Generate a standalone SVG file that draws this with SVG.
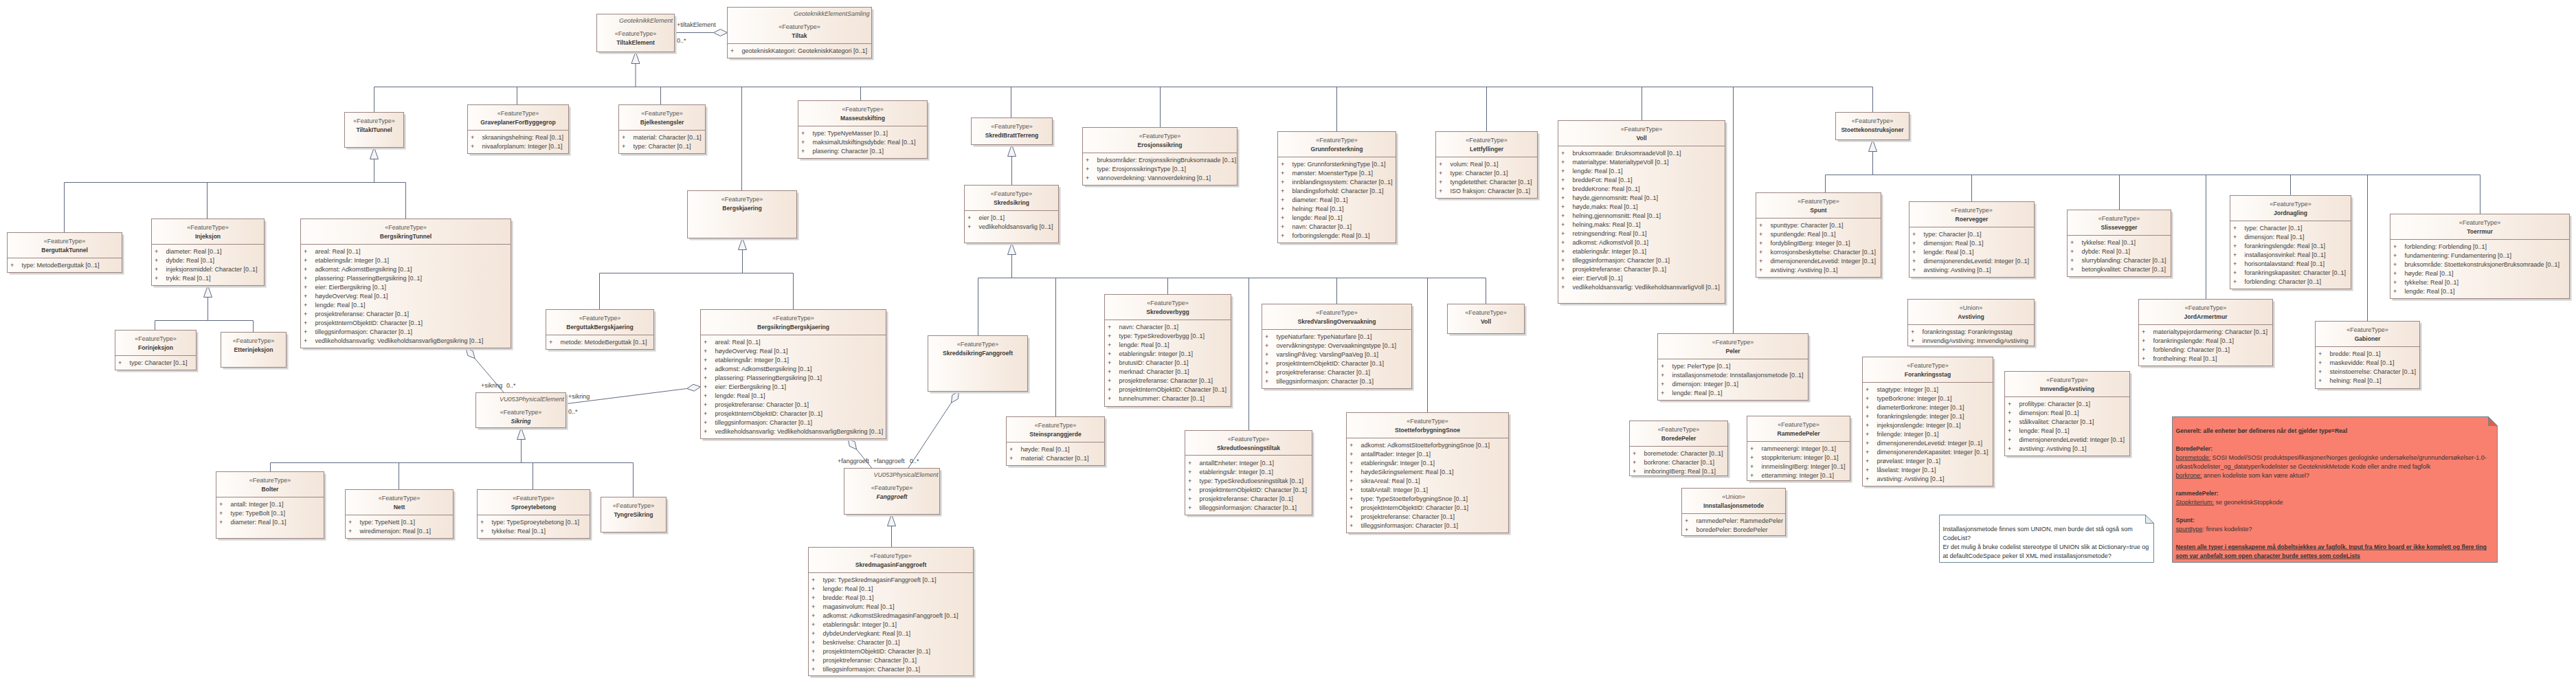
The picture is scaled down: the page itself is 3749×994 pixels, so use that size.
<svg xmlns="http://www.w3.org/2000/svg" width="3749" height="994" viewBox="0 0 3749 994">
<defs>
<linearGradient id="g" x1="0" y1="0" x2="1" y2="0"><stop offset="0" stop-color="#fffdfb"/><stop offset="1" stop-color="#f3e5d9"/></linearGradient>
</defs>
<style>
text{font-family:'Liberation Sans',Arial,sans-serif;font-size:9px;fill:#3f3f3f}
.sh{fill:#d2d2d2}
.bx{fill:url(#g);stroke:#9c8682;stroke-width:1}
.dv{stroke:#9c8682;stroke-width:1}
.st{text-anchor:middle;fill:#575757}
.nm{text-anchor:middle;font-weight:bold;font-size:8.6px;fill:#3a3a3a}
.ni{text-anchor:middle;font-weight:bold;font-style:italic;font-size:8.6px;fill:#3a3a3a}
.it{text-anchor:end;font-style:italic;fill:#5a5a5a}
.ln{fill:none;stroke:#5f6a80;stroke-width:1}
.tri{fill:#f5f5f7;stroke:#5f6a80;stroke-width:1}
.note{fill:#ffffff;stroke:#6d8895;stroke-width:1}
.rnote{fill:#f9806f;stroke:#6d8895;stroke-width:1}
.nt{fill:#333}
.b{font-weight:bold;font-size:8.6px}
.u{text-decoration:underline}
</style>
<rect width="3749" height="994" fill="#ffffff"/>

<g id="connectors">
<path class="ln" d="M925,92.5 V126.5 M544.5,126.5 H2725.5 M544.5,126.5 V163.5 M752.5,126.5 V152.5 M961.5,126.5 V152.5 M1079.5,126.5 V277.5 M1252.5,126.5 V146.5 M1471.5,126.5 V171.5 M1688.5,126.5 V185.5 M1945.5,126.5 V191.5 M2163.5,126.5 V191.5 M2389.5,126.5 V175.5 M2522.5,126.5 V485.5 M2725.5,126.5 V163.5"/>
<path class="ln" d="M544.5,231.5 V265.5 M93.5,265.5 H590.5 M93.5,265.5 V338.5 M301.5,265.5 V318.5 M590.5,265.5 V318.5"/>
<path class="ln" d="M302.5,432.5 V466.5 M225.5,466.5 H368.5 M225.5,466.5 V480.5 M368.5,466.5 V483.5"/>
<path class="ln" d="M1080.5,363.5 V397.5 M872.5,397.5 H1154.5 M872.5,397.5 V450.5 M1154.5,397.5 V450.5"/>
<path class="ln" d="M758.5,639.5 V673.5 M393.5,673.5 H921.5 M393.5,673.5 V686.5 M580.5,673.5 V712.5 M775.5,673.5 V712.5 M921.5,673.5 V723.5"/>
<path class="ln" d="M1472.5,227.5 V269.5"/>
<path class="ln" d="M1472.5,370.5 V404.5 M1423.5,404.5 H2162.5 M1423.5,404.5 V488.5 M1536.5,404.5 V606.5 M1699.5,404.5 V428.5 M1817.5,404.5 V626.5 M1945.5,404.5 V442.5 M2077.5,404.5 V600.5 M2162.5,404.5 V442.5"/>
<path class="ln" d="M2725.5,220.5 V254.5 M2656.5,254.5 H3609.5 M2656.5,254.5 V280.5 M2869.5,254.5 V293.5 M3084.5,254.5 V305.5 M3210.5,254.5 V435.5 M3333.5,254.5 V284.5 M3445.5,254.5 V467.5 M3609.5,254.5 V311.5"/>
<path class="ln" d="M1297.5,765.5 V796.5"/>
<polygon class="tri" points="925,75.5 919,92.5 931,92.5"/>
<polygon class="tri" points="544.5,214.5 538.5,231.5 550.5,231.5"/>
<polygon class="tri" points="302.5,415.5 296.5,432.5 308.5,432.5"/>
<polygon class="tri" points="1080.5,346.5 1074.5,363.5 1086.5,363.5"/>
<polygon class="tri" points="758.5,622.5 752.5,639.5 764.5,639.5"/>
<polygon class="tri" points="1472.5,210.5 1466.5,227.5 1478.5,227.5"/>
<polygon class="tri" points="1472.5,353.5 1466.5,370.5 1478.5,370.5"/>
<polygon class="tri" points="2725.5,203.5 2719.5,220.5 2731.5,220.5"/>
<polygon class="tri" points="1297.5,748.5 1291.5,765.5 1303.5,765.5"/>
<path class="ln" d="M981.5,47.5 H1038.5"/>
<polygon class="tri" points="1058.5,47.5 1048.5,42.5 1038.5,47.5 1048.5,52.5"/>
<path class="ln" d="M691,521.7 L733.4,571.5"/>
<polygon class="tri" points="678,506.5 680.7,517.4 691,521.7 688.3,510.9"/>
<path class="ln" d="M823.5,587.7 L999.7,565.5"/>
<polygon class="tri" points="1019.5,563 1010.2,569.2 999.7,565.5 1009,559.3"/>
<path class="ln" d="M1246.6,654 L1269,681.5"/>
<polygon class="tri" points="1234,638.5 1236.4,649.4 1246.6,654 1244.2,643.1"/>
<path class="ln" d="M1384.5,586.2 L1321.7,681.5"/>
<polygon class="tri" points="1395.5,569.5 1385.8,575.1 1384.5,586.2 1394.2,580.6"/>
<text x="985" y="38.7">+tiltakElement</text>
<text x="985" y="62">0..*</text>
<text x="700" y="563.7">+sikring</text>
<text x="737" y="563.7">0..*</text>
<text x="827" y="580">+sikring</text>
<text x="827" y="602.3">0..*</text>
<text x="1219" y="673.7">+fanggroeft</text>
<text x="1270.7" y="673.7">+fanggroeft</text>
<text x="1324" y="673.7">0..*</text>
</g>

<g id="TiltakElement"><rect class="sh" x="871.5" y="23.5" width="113" height="55"/><rect class="bx" x="868.5" y="20.5" width="113" height="55"/><text class="it" x="979" y="32.7">GeoteknikkElement</text><text class="st" x="925" y="52">«FeatureType»</text><text class="nm" x="925" y="65">TiltakElement</text></g>

<g id="Tiltak"><rect class="sh" x="1061.5" y="13.5" width="210" height="74"/><rect class="bx" x="1058.5" y="10.5" width="210" height="74"/><text class="it" x="1265.5" y="22.7">GeoteknikkElementSamling</text><text class="st" x="1163.5" y="42">«FeatureType»</text><text class="nm" x="1163.5" y="54.7">Tiltak</text><line class="dv" x1="1058.5" y1="63.5" x2="1268.5" y2="63.5"/><text y="76.7"><tspan x="1063">+</tspan><tspan x="1079.5">geotekniskKategori: GeotekniskKategori [0..1]</tspan></text></g>

<g id="TiltakITunnel"><rect class="sh" x="504.5" y="166.5" width="86" height="51"/><rect class="bx" x="501.5" y="163.5" width="86" height="51"/><text class="st" x="544.5" y="178.7">«FeatureType»</text><text class="nm" x="544.5" y="191.7">TiltakITunnel</text></g>

<g id="BerguttakTunnel"><rect class="sh" x="13.5" y="341.5" width="167" height="58"/><rect class="bx" x="10.5" y="338.5" width="167" height="58"/><text class="st" x="94" y="353.7">«FeatureType»</text><text class="nm" x="94" y="366.7">BerguttakTunnel</text><line class="dv" x1="10.5" y1="375.5" x2="177.5" y2="375.5"/><text y="389"><tspan x="15">+</tspan><tspan x="31.5">type: MetodeBerguttak [0..1]</tspan></text></g>

<g id="Injeksjon"><rect class="sh" x="223.5" y="321.5" width="164" height="97"/><rect class="bx" x="220.5" y="318.5" width="164" height="97"/><text class="st" x="302.5" y="334">«FeatureType»</text><text class="nm" x="302.5" y="346.7">Injeksjon</text><line class="dv" x1="220.5" y1="355.5" x2="384.5" y2="355.5"/>
<text y="368.7"><tspan x="225">+</tspan><tspan x="241.5">diameter: Real [0..1]</tspan></text>
<text y="381.7"><tspan x="225">+</tspan><tspan x="241.5">dybde: Real [0..1]</tspan></text>
<text y="394.7"><tspan x="225">+</tspan><tspan x="241.5">injeksjonsmiddel: Character [0..1]</tspan></text>
<text y="407.7"><tspan x="225">+</tspan><tspan x="241.5">trykk: Real [0..1]</tspan></text></g>

<g id="Forinjeksjon"><rect class="sh" x="170.5" y="483.5" width="118" height="58"/><rect class="bx" x="167.5" y="480.5" width="118" height="58"/><text class="st" x="226.5" y="496">«FeatureType»</text><text class="nm" x="226.5" y="508.7">Forinjeksjon</text><line class="dv" x1="167.5" y1="517.5" x2="285.5" y2="517.5"/><text y="530.7"><tspan x="172">+</tspan><tspan x="188.5">type: Character [0..1]</tspan></text></g>

<g id="Etterinjeksjon"><rect class="sh" x="324.5" y="486.5" width="95" height="51"/><rect class="bx" x="321.5" y="483.5" width="95" height="51"/><text class="st" x="369" y="499">«FeatureType»</text><text class="nm" x="369" y="512">Etterinjeksjon</text></g>

<g id="BergsikringTunnel"><rect class="sh" x="440.5" y="321.5" width="306" height="188"/><rect class="bx" x="437.5" y="318.5" width="306" height="188"/><text class="st" x="590.5" y="334">«FeatureType»</text><text class="nm" x="590.5" y="346.7">BergsikringTunnel</text><line class="dv" x1="437.5" y1="355.5" x2="743.5" y2="355.5"/>
<text y="368.7"><tspan x="442">+</tspan><tspan x="458.5">areal: Real [0..1]</tspan></text>
<text y="381.7"><tspan x="442">+</tspan><tspan x="458.5">etableringsår: Integer [0..1]</tspan></text>
<text y="394.7"><tspan x="442">+</tspan><tspan x="458.5">adkomst: AdkomstBergsikring [0..1]</tspan></text>
<text y="407.7"><tspan x="442">+</tspan><tspan x="458.5">plassering: PlasseringBergsikring [0..1]</tspan></text>
<text y="420.7"><tspan x="442">+</tspan><tspan x="458.5">eier: EierBergsikring [0..1]</tspan></text>
<text y="433.7"><tspan x="442">+</tspan><tspan x="458.5">høydeOverVeg: Real [0..1]</tspan></text>
<text y="446.7"><tspan x="442">+</tspan><tspan x="458.5">lengde: Real [0..1]</tspan></text>
<text y="459.7"><tspan x="442">+</tspan><tspan x="458.5">prosjektreferanse: Character [0..1]</tspan></text>
<text y="472.7"><tspan x="442">+</tspan><tspan x="458.5">prosjektInternObjektID: Character [0..1]</tspan></text>
<text y="485.7"><tspan x="442">+</tspan><tspan x="458.5">tilleggsinformasjon: Character [0..1]</tspan></text>
<text y="498.7"><tspan x="442">+</tspan><tspan x="458.5">vedlikeholdsansvarlig: VedlikeholdsansvarligBergsikring [0..1]</tspan></text></g>

<g id="GraveplanerForByggegrop"><rect class="sh" x="683.5" y="155.5" width="147" height="71"/><rect class="bx" x="680.5" y="152.5" width="147" height="71"/><text class="st" x="754" y="168">«FeatureType»</text><text class="nm" x="754" y="181">GraveplanerForByggegrop</text><line class="dv" x1="680.5" y1="189.5" x2="827.5" y2="189.5"/>
<text y="203"><tspan x="685">+</tspan><tspan x="701.5">skraaningshelning: Real [0..1]</tspan></text>
<text y="216"><tspan x="685">+</tspan><tspan x="701.5">nivaaforplanum: Integer [0..1]</tspan></text></g>

<g id="Bjelkestengsler"><rect class="sh" x="903.5" y="155.5" width="126" height="71"/><rect class="bx" x="900.5" y="152.5" width="126" height="71"/><text class="st" x="963.5" y="168">«FeatureType»</text><text class="nm" x="963.5" y="181">Bjelkestengsler</text><line class="dv" x1="900.5" y1="189.5" x2="1026.5" y2="189.5"/>
<text y="203"><tspan x="905">+</tspan><tspan x="921.5">material: Character [0..1]</tspan></text>
<text y="216"><tspan x="905">+</tspan><tspan x="921.5">type: Character [0..1]</tspan></text></g>

<g id="Bergskjaering"><rect class="sh" x="1003.5" y="280.5" width="159" height="69"/><rect class="bx" x="1000.5" y="277.5" width="159" height="69"/><text class="st" x="1080" y="293">«FeatureType»</text><text class="nm" x="1080" y="306">Bergskjaering</text></g>

<g id="BerguttakBergskjaering"><rect class="sh" x="797.5" y="453.5" width="157" height="58"/><rect class="bx" x="794.5" y="450.5" width="157" height="58"/><text class="st" x="873" y="466">«FeatureType»</text><text class="nm" x="873" y="479">BerguttakBergskjaering</text><line class="dv" x1="794.5" y1="487.5" x2="951.5" y2="487.5"/><text y="501"><tspan x="799">+</tspan><tspan x="815.5">metode: MetodeBerguttak [0..1]</tspan></text></g>

<g id="BergsikringBergskjaering"><rect class="sh" x="1022.5" y="453.5" width="270" height="188"/><rect class="bx" x="1019.5" y="450.5" width="270" height="188"/><text class="st" x="1154.5" y="466">«FeatureType»</text><text class="nm" x="1154.5" y="479">BergsikringBergskjaering</text><line class="dv" x1="1019.5" y1="487.5" x2="1289.5" y2="487.5"/>
<text y="501"><tspan x="1024">+</tspan><tspan x="1040.5">areal: Real [0..1]</tspan></text>
<text y="514"><tspan x="1024">+</tspan><tspan x="1040.5">høydeOverVeg: Real [0..1]</tspan></text>
<text y="527"><tspan x="1024">+</tspan><tspan x="1040.5">etableringsår: Integer [0..1]</tspan></text>
<text y="540"><tspan x="1024">+</tspan><tspan x="1040.5">adkomst: AdkomstBergsikring [0..1]</tspan></text>
<text y="553"><tspan x="1024">+</tspan><tspan x="1040.5">plassering: PlasseringBergsikring [0..1]</tspan></text>
<text y="566"><tspan x="1024">+</tspan><tspan x="1040.5">eier: EierBergsikring [0..1]</tspan></text>
<text y="579"><tspan x="1024">+</tspan><tspan x="1040.5">lengde: Real [0..1]</tspan></text>
<text y="592"><tspan x="1024">+</tspan><tspan x="1040.5">prosjektreferanse: Character [0..1]</tspan></text>
<text y="605"><tspan x="1024">+</tspan><tspan x="1040.5">prosjektInternObjektID: Character [0..1]</tspan></text>
<text y="618"><tspan x="1024">+</tspan><tspan x="1040.5">tilleggsinformasjon: Character [0..1]</tspan></text>
<text y="631"><tspan x="1024">+</tspan><tspan x="1040.5">vedlikeholdsansvarlig: VedlikeholdsansvarligBergsikring [0..1]</tspan></text></g>

<g id="Sikring"><rect class="sh" x="695.5" y="574.5" width="131" height="51"/><rect class="bx" x="692.5" y="571.5" width="131" height="51"/><text class="it" x="821" y="583.7">VU053PhysicalElement</text><text class="st" x="758" y="602.7">«FeatureType»</text><text class="ni" x="758" y="615.7">Sikring</text></g>

<g id="Bolter"><rect class="sh" x="317.5" y="689.5" width="157" height="97"/><rect class="bx" x="314.5" y="686.5" width="157" height="97"/><text class="st" x="393" y="701.7">«FeatureType»</text><text class="nm" x="393" y="714.7">Bolter</text><line class="dv" x1="314.5" y1="723.5" x2="471.5" y2="723.5"/>
<text y="737"><tspan x="319">+</tspan><tspan x="335.5">antall: Integer [0..1]</tspan></text>
<text y="750"><tspan x="319">+</tspan><tspan x="335.5">type: TypeBolt [0..1]</tspan></text>
<text y="763"><tspan x="319">+</tspan><tspan x="335.5">diameter: Real [0..1]</tspan></text></g>

<g id="Nett"><rect class="sh" x="505.5" y="715.5" width="157" height="71"/><rect class="bx" x="502.5" y="712.5" width="157" height="71"/><text class="st" x="581" y="728">«FeatureType»</text><text class="nm" x="581" y="741">Nett</text><line class="dv" x1="502.5" y1="749.5" x2="659.5" y2="749.5"/>
<text y="763"><tspan x="507">+</tspan><tspan x="523.5">type: TypeNett [0..1]</tspan></text>
<text y="776"><tspan x="507">+</tspan><tspan x="523.5">wiredimensjon: Real [0..1]</tspan></text></g>

<g id="Sproeytebetong"><rect class="sh" x="697.5" y="715.5" width="164" height="71"/><rect class="bx" x="694.5" y="712.5" width="164" height="71"/><text class="st" x="776.5" y="728">«FeatureType»</text><text class="nm" x="776.5" y="741">Sproeytebetong</text><line class="dv" x1="694.5" y1="749.5" x2="858.5" y2="749.5"/>
<text y="763"><tspan x="699">+</tspan><tspan x="715.5">type: TypeSproeytebetong [0..1]</tspan></text>
<text y="776"><tspan x="699">+</tspan><tspan x="715.5">tykkelse: Real [0..1]</tspan></text></g>

<g id="TyngreSikring"><rect class="sh" x="877.5" y="726.5" width="95" height="51"/><rect class="bx" x="874.5" y="723.5" width="95" height="51"/><text class="st" x="922" y="739">«FeatureType»</text><text class="nm" x="922" y="752">TyngreSikring</text></g>

<g id="Masseutskifting"><rect class="sh" x="1164.5" y="149.5" width="188" height="84"/><rect class="bx" x="1161.5" y="146.5" width="188" height="84"/><text class="st" x="1255.5" y="162">«FeatureType»</text><text class="nm" x="1255.5" y="175">Masseutskifting</text><line class="dv" x1="1161.5" y1="183.5" x2="1349.5" y2="183.5"/>
<text y="196.7"><tspan x="1166">+</tspan><tspan x="1182.5">type: TypeNyeMasser [0..1]</tspan></text>
<text y="209.7"><tspan x="1166">+</tspan><tspan x="1182.5">maksimalUtskiftingsdybde: Real [0..1]</tspan></text>
<text y="222.7"><tspan x="1166">+</tspan><tspan x="1182.5">plasering: Character [0..1]</tspan></text></g>

<g id="SkredIBrattTerreng"><rect class="sh" x="1416.5" y="174.5" width="118" height="39"/><rect class="bx" x="1413.5" y="171.5" width="118" height="39"/><text class="st" x="1472.5" y="187">«FeatureType»</text><text class="nm" x="1472.5" y="200">SkredIBrattTerreng</text></g>

<g id="Skredsikring"><rect class="sh" x="1406.5" y="272.5" width="137" height="84"/><rect class="bx" x="1403.5" y="269.5" width="137" height="84"/><text class="st" x="1472" y="285">«FeatureType»</text><text class="nm" x="1472" y="297.7">Skredsikring</text><line class="dv" x1="1403.5" y1="306.5" x2="1540.5" y2="306.5"/>
<text y="319.7"><tspan x="1408">+</tspan><tspan x="1424.5">eier [0..1]</tspan></text>
<text y="332.7"><tspan x="1408">+</tspan><tspan x="1424.5">vedlikeholdsansvarlig [0..1]</tspan></text></g>

<g id="Erosjonssikring"><rect class="sh" x="1578.5" y="188.5" width="225" height="84"/><rect class="bx" x="1575.5" y="185.5" width="225" height="84"/><text class="st" x="1688" y="201">«FeatureType»</text><text class="nm" x="1688" y="214">Erosjonssikring</text><line class="dv" x1="1575.5" y1="222.5" x2="1800.5" y2="222.5"/>
<text y="236"><tspan x="1580">+</tspan><tspan x="1596.5">bruksområder: ErosjonssikringBruksomraade [0..1]</tspan></text>
<text y="249"><tspan x="1580">+</tspan><tspan x="1596.5">type: ErosjonssikringsType [0..1]</tspan></text>
<text y="262"><tspan x="1580">+</tspan><tspan x="1596.5">vannoverdekning: Vannoverdekning [0..1]</tspan></text></g>

<g id="Grunnforsterkning"><rect class="sh" x="1862.5" y="194.5" width="172" height="162"/><rect class="bx" x="1859.5" y="191.5" width="172" height="162"/><text class="st" x="1945.5" y="207">«FeatureType»</text><text class="nm" x="1945.5" y="220">Grunnforsterkning</text><line class="dv" x1="1859.5" y1="228.5" x2="2031.5" y2="228.5"/>
<text y="242"><tspan x="1864">+</tspan><tspan x="1880.5">type: GrunnforsterkningType [0..1]</tspan></text>
<text y="255"><tspan x="1864">+</tspan><tspan x="1880.5">mønster: MoensterType [0..1]</tspan></text>
<text y="268"><tspan x="1864">+</tspan><tspan x="1880.5">innblandingssystem: Character [0..1]</tspan></text>
<text y="281"><tspan x="1864">+</tspan><tspan x="1880.5">blandingsforhold: Character [0..1]</tspan></text>
<text y="294"><tspan x="1864">+</tspan><tspan x="1880.5">diameter: Real [0..1]</tspan></text>
<text y="307"><tspan x="1864">+</tspan><tspan x="1880.5">helning: Real [0..1]</tspan></text>
<text y="320"><tspan x="1864">+</tspan><tspan x="1880.5">lengde: Real [0..1]</tspan></text>
<text y="333"><tspan x="1864">+</tspan><tspan x="1880.5">navn: Character [0..1]</tspan></text>
<text y="346"><tspan x="1864">+</tspan><tspan x="1880.5">forboringslengde: Real [0..1]</tspan></text></g>

<g id="Lettfyllinger"><rect class="sh" x="2092.5" y="194.5" width="148" height="97"/><rect class="bx" x="2089.5" y="191.5" width="148" height="97"/><text class="st" x="2163.5" y="207">«FeatureType»</text><text class="nm" x="2163.5" y="220">Lettfyllinger</text><line class="dv" x1="2089.5" y1="228.5" x2="2237.5" y2="228.5"/>
<text y="242"><tspan x="2094">+</tspan><tspan x="2110.5">volum: Real [0..1]</tspan></text>
<text y="255"><tspan x="2094">+</tspan><tspan x="2110.5">type: Character [0..1]</tspan></text>
<text y="268"><tspan x="2094">+</tspan><tspan x="2110.5">tyngdetetthet: Character [0..1]</tspan></text>
<text y="281"><tspan x="2094">+</tspan><tspan x="2110.5">ISO fraksjon: Character [0..1]</tspan></text></g>

<g id="Voll"><rect class="sh" x="2270.5" y="178.5" width="243" height="266"/><rect class="bx" x="2267.5" y="175.5" width="243" height="266"/><text class="st" x="2389" y="191">«FeatureType»</text><text class="nm" x="2389" y="203.7">Voll</text><line class="dv" x1="2267.5" y1="212.5" x2="2510.5" y2="212.5"/>
<text y="226"><tspan x="2272">+</tspan><tspan x="2288.5">bruksomraade: BruksomraadeVoll [0..1]</tspan></text>
<text y="239"><tspan x="2272">+</tspan><tspan x="2288.5">materialtype: MaterialtypeVoll [0..1]</tspan></text>
<text y="252"><tspan x="2272">+</tspan><tspan x="2288.5">lengde: Real [0..1]</tspan></text>
<text y="265"><tspan x="2272">+</tspan><tspan x="2288.5">breddeFot: Real [0..1]</tspan></text>
<text y="278"><tspan x="2272">+</tspan><tspan x="2288.5">breddeKrone: Real [0..1]</tspan></text>
<text y="291"><tspan x="2272">+</tspan><tspan x="2288.5">høyde,gjennomsnitt: Real [0..1]</tspan></text>
<text y="304"><tspan x="2272">+</tspan><tspan x="2288.5">høyde,maks: Real [0..1]</tspan></text>
<text y="317"><tspan x="2272">+</tspan><tspan x="2288.5">helning,gjennomsnitt: Real [0..1]</tspan></text>
<text y="330"><tspan x="2272">+</tspan><tspan x="2288.5">helning,maks: Real [0..1]</tspan></text>
<text y="343"><tspan x="2272">+</tspan><tspan x="2288.5">retningsendring: Real [0..1]</tspan></text>
<text y="356"><tspan x="2272">+</tspan><tspan x="2288.5">adkomst: AdkomstVoll [0..1]</tspan></text>
<text y="369"><tspan x="2272">+</tspan><tspan x="2288.5">etableringsår: Integer [0..1]</tspan></text>
<text y="382"><tspan x="2272">+</tspan><tspan x="2288.5">tilleggsinformasjon: Character [0..1]</tspan></text>
<text y="395"><tspan x="2272">+</tspan><tspan x="2288.5">prosjektreferanse: Character [0..1]</tspan></text>
<text y="408"><tspan x="2272">+</tspan><tspan x="2288.5">eier: EierVoll [0..1]</tspan></text>
<text y="421"><tspan x="2272">+</tspan><tspan x="2288.5">vedlikeholdsansvarlig: VedlikeholdsansvarligVoll [0..1]</tspan></text></g>

<g id="Stoettekonstruksjoner"><rect class="sh" x="2674.5" y="166.5" width="107" height="40"/><rect class="bx" x="2671.5" y="163.5" width="107" height="40"/><text class="st" x="2725" y="178.7">«FeatureType»</text><text class="nm" x="2725" y="191.7">Stoettekonstruksjoner</text></g>

<g id="Spunt"><rect class="sh" x="2558.5" y="283.5" width="182" height="123"/><rect class="bx" x="2555.5" y="280.5" width="182" height="123"/><text class="st" x="2646.5" y="296">«FeatureType»</text><text class="nm" x="2646.5" y="308.7">Spunt</text><line class="dv" x1="2555.5" y1="317.5" x2="2737.5" y2="317.5"/>
<text y="331"><tspan x="2560">+</tspan><tspan x="2576.5">spunttype: Character [0..1]</tspan></text>
<text y="344"><tspan x="2560">+</tspan><tspan x="2576.5">spuntlengde: Real [0..1]</tspan></text>
<text y="357"><tspan x="2560">+</tspan><tspan x="2576.5">fordyblingIBerg: Integer [0..1]</tspan></text>
<text y="370"><tspan x="2560">+</tspan><tspan x="2576.5">korrosjonsbeskyttelse: Character [0..1]</tspan></text>
<text y="383"><tspan x="2560">+</tspan><tspan x="2576.5">dimensjonerendeLevetid: Integer [0..1]</tspan></text>
<text y="396"><tspan x="2560">+</tspan><tspan x="2576.5">avstiving: Avstiving [0..1]</tspan></text></g>

<g id="Roervegger"><rect class="sh" x="2781.5" y="296.5" width="182" height="110"/><rect class="bx" x="2778.5" y="293.5" width="182" height="110"/><text class="st" x="2869.5" y="309">«FeatureType»</text><text class="nm" x="2869.5" y="322">Roervegger</text><line class="dv" x1="2778.5" y1="330.5" x2="2960.5" y2="330.5"/>
<text y="344"><tspan x="2783">+</tspan><tspan x="2799.5">type: Character [0..1]</tspan></text>
<text y="357"><tspan x="2783">+</tspan><tspan x="2799.5">dimensjon: Real [0..1]</tspan></text>
<text y="370"><tspan x="2783">+</tspan><tspan x="2799.5">lengde: Real [0..1]</tspan></text>
<text y="383"><tspan x="2783">+</tspan><tspan x="2799.5">dimensjonerendeLevetid: Integer [0..1]</tspan></text>
<text y="396"><tspan x="2783">+</tspan><tspan x="2799.5">avstiving: Avstiving [0..1]</tspan></text></g>

<g id="Slissevegger"><rect class="sh" x="3011.5" y="308.5" width="151" height="97"/><rect class="bx" x="3008.5" y="305.5" width="151" height="97"/><text class="st" x="3084" y="321">«FeatureType»</text><text class="nm" x="3084" y="334">Slissevegger</text><line class="dv" x1="3008.5" y1="342.5" x2="3159.5" y2="342.5"/>
<text y="356"><tspan x="3013">+</tspan><tspan x="3029.5">tykkelse: Real [0..1]</tspan></text>
<text y="369"><tspan x="3013">+</tspan><tspan x="3029.5">dybde: Real [0..1]</tspan></text>
<text y="382"><tspan x="3013">+</tspan><tspan x="3029.5">slurryblanding: Character [0..1]</tspan></text>
<text y="395"><tspan x="3013">+</tspan><tspan x="3029.5">betongkvalitet: Character [0..1]</tspan></text></g>

<g id="Jordnagling"><rect class="sh" x="3248.5" y="287.5" width="176" height="136"/><rect class="bx" x="3245.5" y="284.5" width="176" height="136"/><text class="st" x="3333.5" y="299.7">«FeatureType»</text><text class="nm" x="3333.5" y="312.7">Jordnagling</text><line class="dv" x1="3245.5" y1="321.5" x2="3421.5" y2="321.5"/>
<text y="335"><tspan x="3250">+</tspan><tspan x="3266.5">type: Character [0..1]</tspan></text>
<text y="348"><tspan x="3250">+</tspan><tspan x="3266.5">dimensjon: Real [0..1]</tspan></text>
<text y="361"><tspan x="3250">+</tspan><tspan x="3266.5">forankringslengde: Real [0..1]</tspan></text>
<text y="374"><tspan x="3250">+</tspan><tspan x="3266.5">installasjonsvinkel: Real [0..1]</tspan></text>
<text y="387"><tspan x="3250">+</tspan><tspan x="3266.5">horisontalavstand: Real [0..1]</tspan></text>
<text y="400"><tspan x="3250">+</tspan><tspan x="3266.5">forankringskapasitet: Character [0..1]</tspan></text>
<text y="413"><tspan x="3250">+</tspan><tspan x="3266.5">forblending: Character [0..1]</tspan></text></g>

<g id="Toerrmur"><rect class="sh" x="3481.5" y="314.5" width="261" height="123"/><rect class="bx" x="3478.5" y="311.5" width="261" height="123"/><text class="st" x="3609" y="326.7">«FeatureType»</text><text class="nm" x="3609" y="339.7">Toerrmur</text><line class="dv" x1="3478.5" y1="348.5" x2="3739.5" y2="348.5"/>
<text y="362"><tspan x="3483">+</tspan><tspan x="3499.5">forblending: Forblending [0..1]</tspan></text>
<text y="375"><tspan x="3483">+</tspan><tspan x="3499.5">fundamentering: Fundamentering [0..1]</tspan></text>
<text y="388"><tspan x="3483">+</tspan><tspan x="3499.5">bruksområde: StoettekonstruksjonerBruksomraade [0..1]</tspan></text>
<text y="401"><tspan x="3483">+</tspan><tspan x="3499.5">høyde: Real [0..1]</tspan></text>
<text y="414"><tspan x="3483">+</tspan><tspan x="3499.5">tykkelse: Real [0..1]</tspan></text>
<text y="427"><tspan x="3483">+</tspan><tspan x="3499.5">lengde: Real [0..1]</tspan></text></g>

<g id="Avstiving"><rect class="sh" x="2779.5" y="438.5" width="184" height="68"/><rect class="bx" x="2776.5" y="435.5" width="184" height="68"/><text class="st" x="2868.5" y="450.7">«Union»</text><text class="nm" x="2868.5" y="463.7">Avstiving</text><line class="dv" x1="2776.5" y1="472.5" x2="2960.5" y2="472.5"/>
<text y="485.7"><tspan x="2781">+</tspan><tspan x="2797.5">forankringsstag: Forankringsstag</tspan></text>
<text y="498.7"><tspan x="2781">+</tspan><tspan x="2797.5">innvendigAvstiving: InnvendigAvstiving</tspan></text></g>

<g id="JordArmertmur"><rect class="sh" x="3115.5" y="438.5" width="195" height="97"/><rect class="bx" x="3112.5" y="435.5" width="195" height="97"/><text class="st" x="3210" y="450.7">«FeatureType»</text><text class="nm" x="3210" y="463.7">JordArmertmur</text><line class="dv" x1="3112.5" y1="472.5" x2="3307.5" y2="472.5"/>
<text y="485.7"><tspan x="3117">+</tspan><tspan x="3133.5">materialtypejordarmering: Character [0..1]</tspan></text>
<text y="498.7"><tspan x="3117">+</tspan><tspan x="3133.5">forankringslengde: Real [0..1]</tspan></text>
<text y="511.7"><tspan x="3117">+</tspan><tspan x="3133.5">forblending: Character [0..1]</tspan></text>
<text y="524.7"><tspan x="3117">+</tspan><tspan x="3133.5">fronthelning: Real [0..1]</tspan></text></g>

<g id="Gabioner"><rect class="sh" x="3372.5" y="470.5" width="152" height="98"/><rect class="bx" x="3369.5" y="467.5" width="152" height="98"/><text class="st" x="3445.5" y="483">«FeatureType»</text><text class="nm" x="3445.5" y="495.7">Gabioner</text><line class="dv" x1="3369.5" y1="504.5" x2="3521.5" y2="504.5"/>
<text y="517.7"><tspan x="3374">+</tspan><tspan x="3390.5">bredde: Real [0..1]</tspan></text>
<text y="530.7"><tspan x="3374">+</tspan><tspan x="3390.5">maskevidde: Real [0..1]</tspan></text>
<text y="543.7"><tspan x="3374">+</tspan><tspan x="3390.5">steinstoerrelse: Character [0..1]</tspan></text>
<text y="556.7"><tspan x="3374">+</tspan><tspan x="3390.5">helning: Real [0..1]</tspan></text></g>

<g id="Peler"><rect class="sh" x="2415.5" y="488.5" width="219" height="97"/><rect class="bx" x="2412.5" y="485.5" width="219" height="97"/><text class="st" x="2522" y="501">«FeatureType»</text><text class="nm" x="2522" y="513.7">Peler</text><line class="dv" x1="2412.5" y1="522.5" x2="2631.5" y2="522.5"/>
<text y="536"><tspan x="2417">+</tspan><tspan x="2433.5">type: PelerType [0..1]</tspan></text>
<text y="549"><tspan x="2417">+</tspan><tspan x="2433.5">installasjonsmetode: Innstallasjonsmetode [0..1]</tspan></text>
<text y="562"><tspan x="2417">+</tspan><tspan x="2433.5">dimensjon: Integer [0..1]</tspan></text>
<text y="575"><tspan x="2417">+</tspan><tspan x="2433.5">lengde: Real [0..1]</tspan></text></g>

<g id="BoredePeler"><rect class="sh" x="2374.5" y="615.5" width="143" height="80"/><rect class="bx" x="2371.5" y="612.5" width="143" height="80"/><text class="st" x="2443" y="628">«FeatureType»</text><text class="nm" x="2443" y="641">BoredePeler</text><line class="dv" x1="2371.5" y1="649.5" x2="2514.5" y2="649.5"/>
<text y="663"><tspan x="2376">+</tspan><tspan x="2392.5">boremetode: Character [0..1]</tspan></text>
<text y="676"><tspan x="2376">+</tspan><tspan x="2392.5">borkrone: Character [0..1]</tspan></text>
<text y="689"><tspan x="2376">+</tspan><tspan x="2392.5">innboringIBerg: Real [0..1]</tspan></text></g>

<g id="RammedePeler"><rect class="sh" x="2545.5" y="608.5" width="150" height="94"/><rect class="bx" x="2542.5" y="605.5" width="150" height="94"/><text class="st" x="2617.5" y="621">«FeatureType»</text><text class="nm" x="2617.5" y="634">RammedePeler</text><line class="dv" x1="2542.5" y1="642.5" x2="2692.5" y2="642.5"/>
<text y="656"><tspan x="2547">+</tspan><tspan x="2563.5">rammeenergi: Integer [0..1]</tspan></text>
<text y="669"><tspan x="2547">+</tspan><tspan x="2563.5">stoppkriterium: Integer [0..1]</tspan></text>
<text y="682"><tspan x="2547">+</tspan><tspan x="2563.5">innmeislingIBerg: Integer [0..1]</tspan></text>
<text y="695"><tspan x="2547">+</tspan><tspan x="2563.5">etteramming: Integer [0..1]</tspan></text></g>

<g id="Innstallasjonsmetode"><rect class="sh" x="2450.5" y="713.5" width="151" height="69"/><rect class="bx" x="2447.5" y="710.5" width="151" height="69"/><text class="st" x="2523" y="725.7">«Union»</text><text class="nm" x="2523" y="738.7">Innstallasjonsmetode</text><line class="dv" x1="2447.5" y1="747.5" x2="2598.5" y2="747.5"/>
<text y="761"><tspan x="2452">+</tspan><tspan x="2468.5">rammedePeler: RammedePeler</tspan></text>
<text y="774"><tspan x="2452">+</tspan><tspan x="2468.5">boredePeler: BoredePeler</tspan></text></g>

<g id="Forankringsstag"><rect class="sh" x="2713.5" y="522.5" width="190" height="188"/><rect class="bx" x="2710.5" y="519.5" width="190" height="188"/><text class="st" x="2805.5" y="534.7">«FeatureType»</text><text class="nm" x="2805.5" y="547.7">Forankringsstag</text><line class="dv" x1="2710.5" y1="556.5" x2="2900.5" y2="556.5"/>
<text y="570"><tspan x="2715">+</tspan><tspan x="2731.5">stagtype: Integer [0..1]</tspan></text>
<text y="583"><tspan x="2715">+</tspan><tspan x="2731.5">typeBorkrone: Integer [0..1]</tspan></text>
<text y="596"><tspan x="2715">+</tspan><tspan x="2731.5">diameterBorkrone: Integer [0..1]</tspan></text>
<text y="609"><tspan x="2715">+</tspan><tspan x="2731.5">forankringslengde: Integer [0..1]</tspan></text>
<text y="622"><tspan x="2715">+</tspan><tspan x="2731.5">injeksjonslengde: Integer [0..1]</tspan></text>
<text y="635"><tspan x="2715">+</tspan><tspan x="2731.5">frilengde: Integer [0..1]</tspan></text>
<text y="648"><tspan x="2715">+</tspan><tspan x="2731.5">dimensjonerendeLevetid: Integer [0..1]</tspan></text>
<text y="661"><tspan x="2715">+</tspan><tspan x="2731.5">dimensjonerendeKapasitet: Integer [0..1]</tspan></text>
<text y="674"><tspan x="2715">+</tspan><tspan x="2731.5">prøvelast: Integer [0..1]</tspan></text>
<text y="687"><tspan x="2715">+</tspan><tspan x="2731.5">låselast: Integer [0..1]</tspan></text>
<text y="700"><tspan x="2715">+</tspan><tspan x="2731.5">avstiving: Avstiving [0..1]</tspan></text></g>

<g id="InnvendigAvstiving"><rect class="sh" x="2920.5" y="543.5" width="182" height="123"/><rect class="bx" x="2917.5" y="540.5" width="182" height="123"/><text class="st" x="3008.5" y="555.7">«FeatureType»</text><text class="nm" x="3008.5" y="568.7">InnvendigAvstiving</text><line class="dv" x1="2917.5" y1="577.5" x2="3099.5" y2="577.5"/>
<text y="591"><tspan x="2922">+</tspan><tspan x="2938.5">profiltype: Character [0..1]</tspan></text>
<text y="604"><tspan x="2922">+</tspan><tspan x="2938.5">dimensjon: Real [0..1]</tspan></text>
<text y="617"><tspan x="2922">+</tspan><tspan x="2938.5">stålkvalitet: Character [0..1]</tspan></text>
<text y="630"><tspan x="2922">+</tspan><tspan x="2938.5">lengde: Real [0..1]</tspan></text>
<text y="643"><tspan x="2922">+</tspan><tspan x="2938.5">dimensjonerendeLevetid: Integer [0..1]</tspan></text>
<text y="656"><tspan x="2922">+</tspan><tspan x="2938.5">avstiving: Avstiving [0..1]</tspan></text></g>

<g id="SkreddsikringFanggroeft"><rect class="sh" x="1353.5" y="491.5" width="145" height="81"/><rect class="bx" x="1350.5" y="488.5" width="145" height="81"/><text class="st" x="1423" y="504">«FeatureType»</text><text class="nm" x="1423" y="516.7">SkreddsikringFanggroeft</text></g>

<g id="Fanggroeft"><rect class="sh" x="1231.5" y="684.5" width="139" height="67"/><rect class="bx" x="1228.5" y="681.5" width="139" height="67"/><text class="it" x="1365.5" y="693.7">VU053PhysicalElement</text><text class="st" x="1298" y="712.7">«FeatureType»</text><text class="ni" x="1298" y="725.7">Fanggroeft</text></g>

<g id="SkredmagasinFanggroeft"><rect class="sh" x="1179.5" y="799.5" width="240" height="187"/><rect class="bx" x="1176.5" y="796.5" width="240" height="187"/><text class="st" x="1296.5" y="812">«FeatureType»</text><text class="nm" x="1296.5" y="824.7">SkredmagasinFanggroeft</text><line class="dv" x1="1176.5" y1="833.5" x2="1416.5" y2="833.5"/>
<text y="847"><tspan x="1181">+</tspan><tspan x="1197.5">type: TypeSkredmagasinFanggroeft [0..1]</tspan></text>
<text y="860"><tspan x="1181">+</tspan><tspan x="1197.5">lengde: Real [0..1]</tspan></text>
<text y="873"><tspan x="1181">+</tspan><tspan x="1197.5">bredde: Real [0..1]</tspan></text>
<text y="886"><tspan x="1181">+</tspan><tspan x="1197.5">magasinvolum: Real [0..1]</tspan></text>
<text y="899"><tspan x="1181">+</tspan><tspan x="1197.5">adkomst: AdkomstSkredmagasinFanggroeft [0..1]</tspan></text>
<text y="912"><tspan x="1181">+</tspan><tspan x="1197.5">etableringsår: Integer [0..1]</tspan></text>
<text y="925"><tspan x="1181">+</tspan><tspan x="1197.5">dybdeUnderVegkant: Real [0..1]</tspan></text>
<text y="938"><tspan x="1181">+</tspan><tspan x="1197.5">beskrivelse: Character [0..1]</tspan></text>
<text y="951"><tspan x="1181">+</tspan><tspan x="1197.5">prosjektInternObjektID: Character [0..1]</tspan></text>
<text y="964"><tspan x="1181">+</tspan><tspan x="1197.5">prosjektreferanse: Character [0..1]</tspan></text>
<text y="977"><tspan x="1181">+</tspan><tspan x="1197.5">tilleggsinformasjon: Character [0..1]</tspan></text></g>

<g id="Skredoverbygg"><rect class="sh" x="1610.5" y="431.5" width="184" height="163"/><rect class="bx" x="1607.5" y="428.5" width="184" height="163"/><text class="st" x="1699.5" y="444">«FeatureType»</text><text class="nm" x="1699.5" y="457">Skredoverbygg</text><line class="dv" x1="1607.5" y1="465.5" x2="1791.5" y2="465.5"/>
<text y="479"><tspan x="1612">+</tspan><tspan x="1628.5">navn: Character [0..1]</tspan></text>
<text y="492"><tspan x="1612">+</tspan><tspan x="1628.5">type: TypeSkredoverbygg [0..1]</tspan></text>
<text y="505"><tspan x="1612">+</tspan><tspan x="1628.5">lengde: Real [0..1]</tspan></text>
<text y="518"><tspan x="1612">+</tspan><tspan x="1628.5">etableringsår: Integer [0..1]</tspan></text>
<text y="531"><tspan x="1612">+</tspan><tspan x="1628.5">brutusID: Character [0..1]</tspan></text>
<text y="544"><tspan x="1612">+</tspan><tspan x="1628.5">merknad: Character [0..1]</tspan></text>
<text y="557"><tspan x="1612">+</tspan><tspan x="1628.5">prosjektreferanse: Character [0..1]</tspan></text>
<text y="570"><tspan x="1612">+</tspan><tspan x="1628.5">prosjektInternObjektID: Character [0..1]</tspan></text>
<text y="583"><tspan x="1612">+</tspan><tspan x="1628.5">tunnelnummer: Character [0..1]</tspan></text></g>

<g id="Steinspranggjerde"><rect class="sh" x="1467.5" y="609.5" width="143" height="71"/><rect class="bx" x="1464.5" y="606.5" width="143" height="71"/><text class="st" x="1536" y="622">«FeatureType»</text><text class="nm" x="1536" y="635">Steinspranggjerde</text><line class="dv" x1="1464.5" y1="643.5" x2="1607.5" y2="643.5"/>
<text y="656.7"><tspan x="1469">+</tspan><tspan x="1485.5">høyde: Real [0..1]</tspan></text>
<text y="669.7"><tspan x="1469">+</tspan><tspan x="1485.5">material: Character [0..1]</tspan></text></g>

<g id="Skredutloesningstiltak"><rect class="sh" x="1727.5" y="629.5" width="185" height="123"/><rect class="bx" x="1724.5" y="626.5" width="185" height="123"/><text class="st" x="1817" y="642">«FeatureType»</text><text class="nm" x="1817" y="655">Skredutloesningstiltak</text><line class="dv" x1="1724.5" y1="662.5" x2="1909.5" y2="662.5"/>
<text y="677"><tspan x="1729">+</tspan><tspan x="1745.5">antallEnheter: Integer [0..1]</tspan></text>
<text y="690"><tspan x="1729">+</tspan><tspan x="1745.5">etableringsår: Integer [0..1]</tspan></text>
<text y="703"><tspan x="1729">+</tspan><tspan x="1745.5">type: TypeSkredutloesningstiltak [0..1]</tspan></text>
<text y="716"><tspan x="1729">+</tspan><tspan x="1745.5">prosjektInternObjektID: Character [0..1]</tspan></text>
<text y="729"><tspan x="1729">+</tspan><tspan x="1745.5">prosjektreferanse: Character [0..1]</tspan></text>
<text y="742"><tspan x="1729">+</tspan><tspan x="1745.5">tilleggsinformasjon: Character [0..1]</tspan></text></g>

<g id="SkredVarslingOvervaakning"><rect class="sh" x="1839.5" y="445.5" width="218" height="123"/><rect class="bx" x="1836.5" y="442.5" width="218" height="123"/><text class="st" x="1945.5" y="458">«FeatureType»</text><text class="nm" x="1945.5" y="470.7">SkredVarslingOvervaakning</text><line class="dv" x1="1836.5" y1="479.5" x2="2054.5" y2="479.5"/>
<text y="493"><tspan x="1841">+</tspan><tspan x="1857.5">typeNaturfare: TypeNaturfare [0..1]</tspan></text>
<text y="506"><tspan x="1841">+</tspan><tspan x="1857.5">overvåkningstype: Overvaakningstype [0..1]</tspan></text>
<text y="519"><tspan x="1841">+</tspan><tspan x="1857.5">varslingPåVeg: VarslingPaaVeg [0..1]</tspan></text>
<text y="532"><tspan x="1841">+</tspan><tspan x="1857.5">prosjektInternObjektID: Character [0..1]</tspan></text>
<text y="545"><tspan x="1841">+</tspan><tspan x="1857.5">prosjektreferanse: Character [0..1]</tspan></text>
<text y="558"><tspan x="1841">+</tspan><tspan x="1857.5">tilleggsinformasjon: Character [0..1]</tspan></text></g>

<g id="VollSkred"><rect class="sh" x="2109.5" y="445.5" width="112" height="43"/><rect class="bx" x="2106.5" y="442.5" width="112" height="43"/><text class="st" x="2162.5" y="458">«FeatureType»</text><text class="nm" x="2162.5" y="471">Voll</text></g>

<g id="StoetteforbygningSnoe"><rect class="sh" x="1962.5" y="603.5" width="236" height="175"/><rect class="bx" x="1959.5" y="600.5" width="236" height="175"/><text class="st" x="2077.5" y="616">«FeatureType»</text><text class="nm" x="2077.5" y="629">StoetteforbygningSnoe</text><line class="dv" x1="1959.5" y1="637.5" x2="2195.5" y2="637.5"/>
<text y="651"><tspan x="1964">+</tspan><tspan x="1980.5">adkomst: AdkomstStoetteforbygningSnoe [0..1]</tspan></text>
<text y="664"><tspan x="1964">+</tspan><tspan x="1980.5">antallRader: Integer [0..1]</tspan></text>
<text y="677"><tspan x="1964">+</tspan><tspan x="1980.5">etableringsår: Integer [0..1]</tspan></text>
<text y="690"><tspan x="1964">+</tspan><tspan x="1980.5">høydeSikringselement: Real [0..1]</tspan></text>
<text y="703"><tspan x="1964">+</tspan><tspan x="1980.5">sikraAreal: Real [0..1]</tspan></text>
<text y="716"><tspan x="1964">+</tspan><tspan x="1980.5">totaltAntall: Integer [0..1]</tspan></text>
<text y="729"><tspan x="1964">+</tspan><tspan x="1980.5">type: TypeStoetteforbygningSnoe [0..1]</tspan></text>
<text y="742"><tspan x="1964">+</tspan><tspan x="1980.5">prosjektInternObjektID: Character [0..1]</tspan></text>
<text y="755"><tspan x="1964">+</tspan><tspan x="1980.5">prosjektreferanse: Character [0..1]</tspan></text>
<text y="768"><tspan x="1964">+</tspan><tspan x="1980.5">tilleggsinformasjon: Character [0..1]</tspan></text></g>

<g id="note-installasjonsmetode">
<path class="note" d="M2822.5,749.5 H3122.5 L3134.5,761.5 V818.5 H2822.5 Z"/>
<polygon points="3122.5,749.5 3122.5,761.5 3134.5,761.5" fill="#e3eaee" stroke="#6d8895"/>
<text class="nt" x="2827.5" y="772.7">Installasjonsmetode finnes som UNION, men burde det stå også som</text>
<text class="nt" x="2827.5" y="785.7">CodeList?</text>
<text class="nt" x="2827.5" y="798.7">Er det mulig å bruke codelist stereotype til UNION slik at Dictionary=true og</text>
<text class="nt" x="2827.5" y="811.7">at defaultCodeSpace peker til XML med installasjonsmetode?</text>
</g>

<g id="note-generelt">
<path class="rnote" d="M3161.5,606.5 H3621.5 L3634.5,619.5 V818.5 H3161.5 Z"/>
<polygon points="3621.5,606.5 3621.5,619.5 3634.5,619.5" fill="#d9624f" stroke="#6d8895"/>
<text class="nt b" x="3166.5" y="629.7">Generelt: alle enheter bør defineres når det gjelder type=Real</text>
<text class="nt b" x="3166.5" y="655.7">BoredePeler:</text>
<text class="nt" x="3166.5" y="668.7"><tspan class="u">boremetode:</tspan> SOSI Model/SOSI produktspesifikasjoner/Norges geologiske undersøkelse/grunnundersøkelser-1.0-</text>
<text class="nt" x="3166.5" y="681.7">utkast/kodelister_og_datatyper/kodelister se GeotekniskMetode Kode eller andre med fagfolk</text>
<text class="nt" x="3166.5" y="694.7"><tspan class="u">borkrone:</tspan> annen kodeliste som kan være aktuel?</text>
<text class="nt b" x="3166.5" y="720.7">rammedePeler:</text>
<text class="nt" x="3166.5" y="733.7"><tspan class="u">Stopkriterium:</tspan> se geonektiskStoppkode</text>
<text class="nt b" x="3166.5" y="759.7">Spunt:</text>
<text class="nt" x="3166.5" y="772.7"><tspan class="u">spunttype</tspan>: finnes kodeliste?</text>
<text class="nt b u" x="3166.5" y="798.7">Nesten alle typer i egenskapene må dobeltsjekkes av fagfolk. Input fra Miro board er ikke komplett og flere ting</text>
<text class="nt b u" x="3166.5" y="811.7">som var anbefalt som open character burde settes som codeLists</text>
</g>
</svg>
